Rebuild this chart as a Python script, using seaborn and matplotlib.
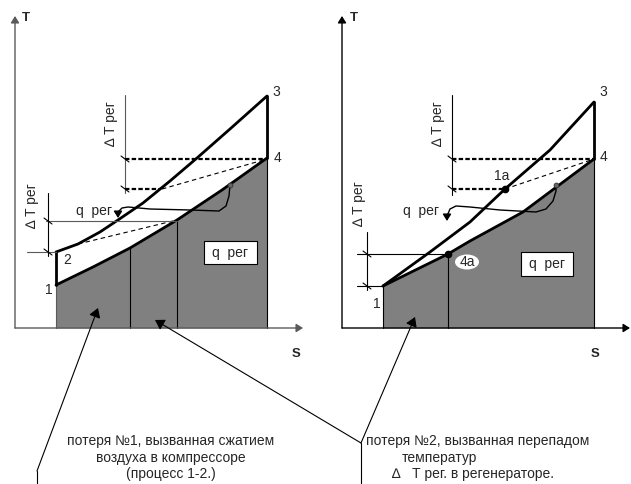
import matplotlib
matplotlib.use("Agg")
import matplotlib.pyplot as plt
import seaborn as sns
from matplotlib.patches import Ellipse, Rectangle

sns.set_style("white")
plt.rcParams['font.family'] = ['Liberation Sans', 'DejaVu Sans']

# scheme is drawn in picture pixels (x to the right, y downward)
axis_y = 328
left_t_axis = 15
left_s_tip = 303
right_t_axis = 342
right_s_tip = 630

# left T-S diagram: loss from compression 1-2
left_upper_s = [56, 78, 100, 118, 143, 170, 197, 230, 267]
left_upper_t = [252, 244, 232, 220, 203, 181, 158, 129, 96]
left_lower_s = [56, 93, 130, 177, 222, 267]
left_lower_t = [285, 267, 248, 220, 190, 158]
left_div_s = [130, 177]
left_div_t = [248, 220]
left_qcurve_s = [230, 229, 226, 219, 190, 150, 128, 122, 119, 118]
left_qcurve_t = [185, 196, 206, 211, 210, 209, 207, 208, 211, 213]

# right T-S diagram: loss from the regenerator temperature drop
right_upper_s = [383, 430, 470, 505, 550, 594]
right_upper_t = [286, 252, 222, 189, 150, 102]
right_lower_s = [383, 448, 470, 523, 594]
right_lower_t = [286, 254, 241, 212, 159]
right_div_s = [448]
right_div_t = [254]
right_qcurve_s = [556, 556, 553, 546, 536, 500, 470, 456, 450, 447]
right_qcurve_t = [185, 191, 201, 209, 212, 210, 207, 206, 209, 216]

lw_thick = 2.0
lw_thin = 0.8
grey_fill = '#808080'

fig = plt.figure(figsize=(6.31, 4.84), dpi=100)
ax = fig.add_axes([0, 0, 1, 1])
ax.set_xlim(0, 631)
ax.set_ylim(484, 0)
ax.axis('off')


def arrow(ax, x0, y0, x1, y1, lw=lw_thin, head=0.35, color='black'):
    ax.annotate('', xy=(x1, y1), xytext=(x0, y0),
                arrowprops=dict(arrowstyle=f'-|>,head_length={head*1.6},head_width={head}',
                                color=color, lw=lw, shrinkA=0, shrinkB=0))


def tick(ax, x, y):
    ax.plot([x - 4, x + 4], [y - 3, y + 3], color='black', lw=lw_thin)


def diagram(ax, t_x, s_tip, upper_s, upper_t, lower_s, lower_t, div_s, div_t,
            q_s, q_t, qbox, tlabel_x, slabel_x, axis_color):
    # axes of the diagram
    arrow(ax, t_x, axis_y, t_x, 16, lw=1.0, head=0.25, color=axis_color)
    arrow(ax, t_x, axis_y, s_tip, axis_y, lw=1.0, head=0.25, color=axis_color)
    ax.text(tlabel_x, 18, 'T', fontsize=9.5, fontweight='bold', va='center', ha='center')
    ax.text(slabel_x, 354, 'S', fontsize=9.5, fontweight='bold', va='center', ha='center')

    # shaded heat area under the lower line
    ax.fill_between(lower_s, lower_t, axis_y, color=grey_fill, lw=0)
    ax.plot([lower_s[0], lower_s[0]], [lower_t[0], axis_y], color=axis_color, lw=lw_thin)
    ax.plot([lower_s[-1], lower_s[-1]], [lower_t[-1], axis_y], color='black', lw=lw_thin)
    for s, t in zip(div_s, div_t):
        ax.plot([s, s], [t, axis_y], color='black', lw=lw_thin)

    # cycle lines
    sns.lineplot(x=upper_s, y=upper_t, sort=False, estimator=None,
                 color='black', lw=lw_thick, ax=ax)
    sns.lineplot(x=lower_s, y=lower_t, sort=False, estimator=None,
                 color='black', lw=lw_thick, ax=ax)
    ax.plot([upper_s[-1], lower_s[-1]], [upper_t[-1], lower_t[-1]], color='black', lw=lw_thick)
    ax.plot([upper_s[0], lower_s[0]], [upper_t[0], lower_t[0]], color='black', lw=lw_thick)

    # q per curved pointer
    ax.plot(q_s, q_t, color='black', lw=1.0)
    arrow(ax, q_s[-1], q_t[-1], q_s[-1], q_t[-1] + 5, lw=1.0, head=0.25)
    ax.plot(q_s[0], q_t[0], 'o', ms=3.5, mfc='#666666', mec='#333333', mew=0.6)

    bx, by, bw, bh = qbox
    ax.add_patch(Rectangle((bx, by), bw, bh, facecolor='white', edgecolor='black', lw=0.8))
    ax.text(bx + bw / 2, by + bh / 2, 'q  рег', fontsize=10, ha='center', va='center')


diagram(ax, left_t_axis, left_s_tip, left_upper_s, left_upper_t, left_lower_s, left_lower_t,
        left_div_s, left_div_t, left_qcurve_s, left_qcurve_t, (204, 241, 53, 23), 26, 296,
        '#5a5a5a')
diagram(ax, right_t_axis, right_s_tip, right_upper_s, right_upper_t, right_lower_s, right_lower_t,
        right_div_s, right_div_t, right_qcurve_s, right_qcurve_t, (521, 252, 52, 24), 354, 595,
        'black')

# --- left diagram extras
ax.plot([125, 125], [95, 193], color='#5a5a5a', lw=lw_thin)
tick(ax, 125, 159)
tick(ax, 125, 189)
ax.plot([125, 267], [159, 159], color='black', lw=1.6, ls=(0, (2, 1)))
ax.plot([125, 160], [189, 189], color='black', lw=1.6, ls=(0, (2, 1)))
ax.plot([162, 267], [189, 159], color='black', lw=lw_thin, ls=(0, (4, 3)))
ax.plot([78, 177], [244, 220], color='black', lw=lw_thin, ls=(0, (4, 3)))
ax.plot([48, 48], [193, 256], color='black', lw=lw_thin)
ax.plot([46, 177], [221, 221], color='#5a5a5a', lw=lw_thin)
ax.plot([27, 56], [252, 252], color='#5a5a5a', lw=lw_thin)
tick(ax, 48, 221)
tick(ax, 48, 252)
ax.text(111, 124, '∆ T рег', rotation=90, fontsize=10, ha='center', va='center')
ax.text(32, 206, '∆ T рег', rotation=90, fontsize=10, ha='center', va='center')
ax.text(94, 211, 'q  рег', fontsize=10, ha='center', va='center')
ax.text(49, 290, '1', fontsize=10, ha='center', va='center')
ax.text(67, 260, '2', fontsize=10, ha='center', va='center')
ax.text(276, 92, '3', fontsize=10, ha='center', va='center')
ax.text(277, 158, '4', fontsize=10, ha='center', va='center')

# --- right diagram extras
ax.plot([452, 452], [95, 195], color='black', lw=lw_thin)
tick(ax, 452, 159)
tick(ax, 452, 189)
ax.plot([452, 594], [159, 159], color='black', lw=1.6, ls=(0, (2, 1)))
ax.plot([452, 505], [189, 189], color='black', lw=1.6, ls=(0, (2, 1)))
ax.plot([505, 594], [189, 159], color='black', lw=lw_thin, ls=(0, (4, 3)))
ax.plot([367, 367], [232, 290], color='black', lw=lw_thin)
ax.plot([357, 448], [254, 254], color='black', lw=lw_thin)
ax.plot([357, 383], [286, 286], color='black', lw=lw_thin)
tick(ax, 367, 254)
tick(ax, 367, 286)
ax.plot([505, 448], [189, 254], 'o', color='black', ms=4.5)
ax.add_patch(Ellipse((467, 262), 24, 15, facecolor='white', edgecolor='none'))
ax.text(467, 262, '4a', fontsize=10, ha='center', va='center')
ax.text(502, 176, '1a', fontsize=10, ha='center', va='center')
ax.text(438, 124, '∆ T рег', rotation=90, fontsize=10, ha='center', va='center')
ax.text(359, 204, '∆ T рег', rotation=90, fontsize=10, ha='center', va='center')
ax.text(421, 211, 'q  рег', fontsize=10, ha='center', va='center')
ax.text(377, 304, '1', fontsize=10, ha='center', va='center')
ax.text(603, 92, '3', fontsize=10, ha='center', va='center')
ax.text(603, 157, '4', fontsize=10, ha='center', va='center')

# --- leader lines to the loss captions
ax.plot([37, 37], [484, 471], color='black', lw=lw_thin)
arrow(ax, 37, 471, 98, 308)
ax.plot([361, 361], [484, 443], color='black', lw=lw_thin)
arrow(ax, 361, 443, 155, 320)
arrow(ax, 361, 443, 415, 317)

ax.text(171, 441, 'потеря №1, вызванная сжатием', fontsize=10, ha='center', va='center')
ax.text(171, 458, 'воздуха в компрессоре', fontsize=10, ha='center', va='center')
ax.text(171, 474, '(процесс 1-2.)', fontsize=10, ha='center', va='center')
ax.text(366, 441, 'потеря №2, вызванная перепадом', fontsize=10, ha='left', va='center')
ax.text(439, 458, 'температур', fontsize=10, ha='center', va='center')
ax.text(392, 474, '∆   Т рег. в регенераторе.', fontsize=10, ha='left', va='center')

fig.savefig('out.png', dpi=100, facecolor='white')
